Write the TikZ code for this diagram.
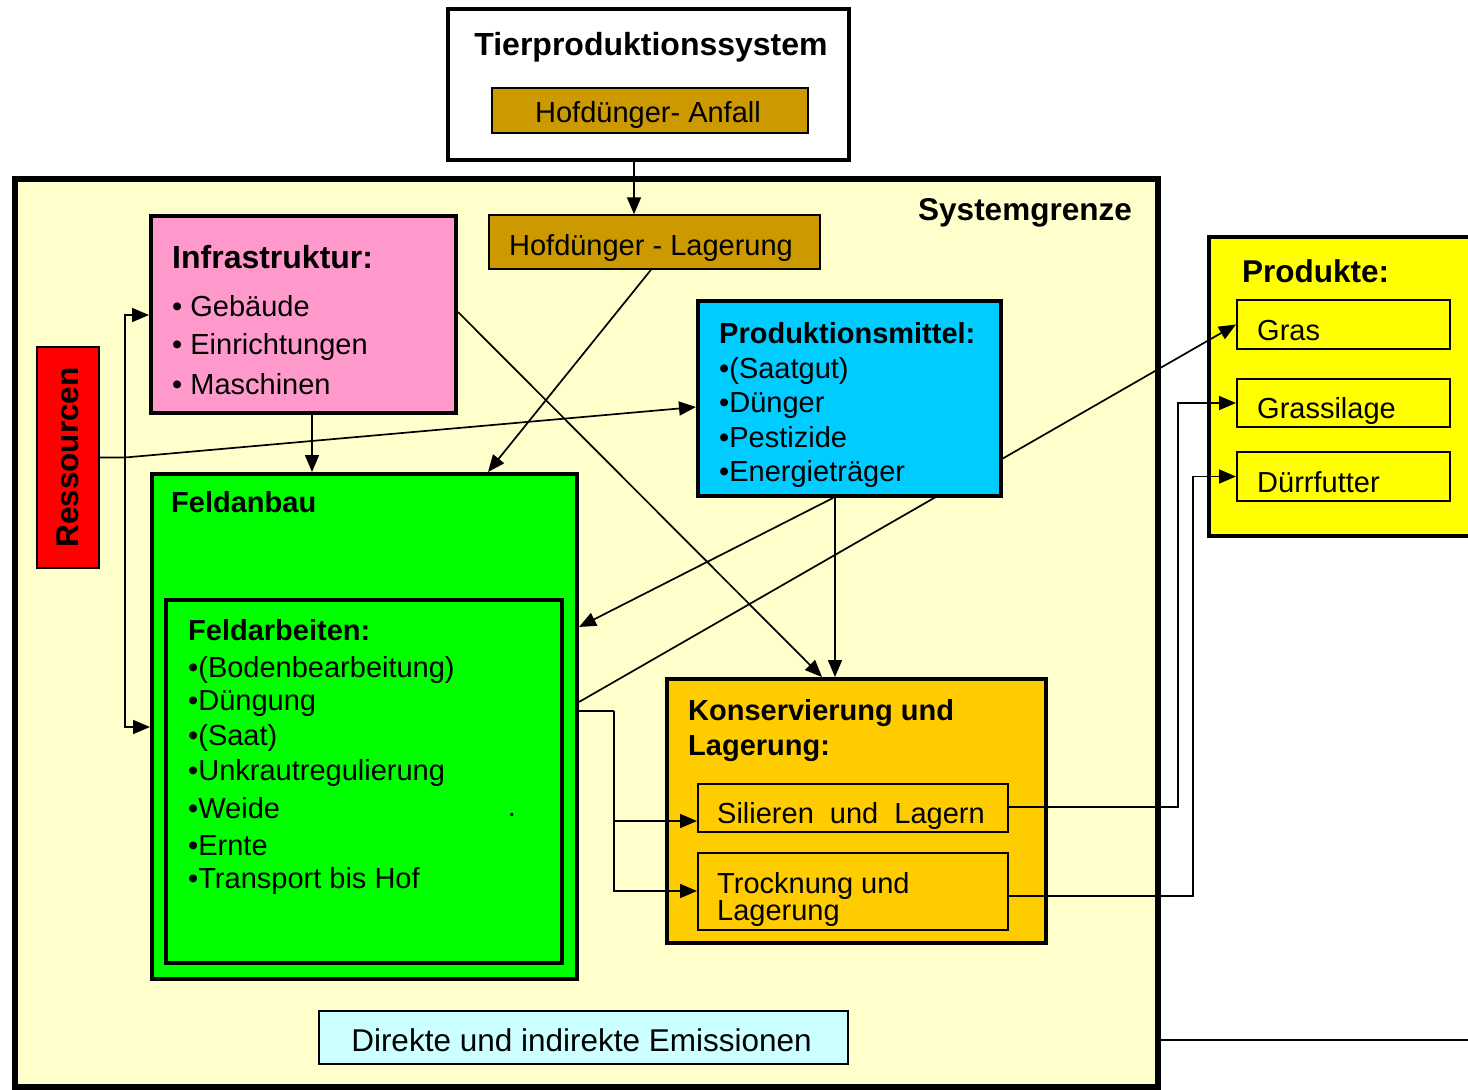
\documentclass[tikz,border=0pt]{standalone}
\usepackage{fontspec}
\setmainfont{Liberation Sans}
\usetikzlibrary{arrows.meta,calc}
\definecolor{sysbg}{HTML}{FFFFCC}
\definecolor{hofd}{HTML}{CC9900}
\definecolor{infrac}{HTML}{FF99CC}
\definecolor{prodc}{HTML}{00CCFF}
\definecolor{feldc}{HTML}{00FF00}
\definecolor{konsc}{HTML}{FFCC00}
\definecolor{produktc}{HTML}{FFFF00}
\definecolor{emisc}{HTML}{CCFFFF}
\definecolor{resc}{HTML}{FF0000}
\begin{document}
\begin{tikzpicture}[x=1pt,y=-1pt,
 box/.style={draw, rectangle, inner sep=0pt, line width=4pt},
 thinbox/.style={draw, rectangle, inner sep=0pt, line width=1.5pt},
 txt/.style={inner sep=0pt, anchor=base west, font=\fontsize{29}{34}\selectfont},
 hd/.style={inner sep=0pt, anchor=base west, font=\fontsize{29}{34}\selectfont\bfseries},
 bighd/.style={inner sep=0pt, anchor=base west, font=\fontsize{31.5}{36}\selectfont\bfseries},
 arr/.style={line width=1.7pt, -{Triangle[length=17pt,width=14pt]}},
 ln/.style={line width=1.7pt}]
\useasboundingbox (0,0) rectangle (1468,1090);
\fill[white] (0,0) rectangle (1468,1090);

% Systemgrenze
\node[box, line width=6pt, fill=sysbg, minimum width=1143pt, minimum height=908pt] (sys) at (586.5,633) {};
\node[bighd, anchor=base east] (sysT) at (1132,220) {Systemgrenze};

% Tierproduktionssystem
\node[box, line width=3.5pt, fill=white, minimum width=401pt, minimum height=151pt] (tier) at (648.5,84.5) {};
\node[bighd, anchor=base, font=\fontsize{32}{36}\selectfont\bfseries] (tierT) at (651,55) {Tierproduktionssystem};
\node[thinbox, fill=hofd, minimum width=316pt, minimum height=45pt] (anfall) at (650,110.5) {};
\node[txt, anchor=base] (anfallT) at (648,122) {Hofdünger- Anfall};

% Hofduenger-Lagerung
\node[thinbox, fill=hofd, minimum width=331pt, minimum height=54pt] (lager) at (654.5,242) {};
\node[txt, anchor=base] (lagerT) at (651,255) {Hofdünger - Lagerung};

% Infrastruktur
\node[box, fill=infrac, minimum width=305pt, minimum height=197pt] (infra) at (303.5,314.5) {};
\node[bighd, font=\fontsize{32}{36}\selectfont\bfseries] (infraT) at (172,268) {Infrastruktur:};
\node[txt] (infra1) at (172,316) {• Gebäude};
\node[txt] (infra2) at (172,354) {• Einrichtungen};
\node[txt] (infra3) at (172,394) {• Maschinen};

% Ressourcen
\node[thinbox, fill=resc, minimum width=62pt, minimum height=221pt] (res) at (68,457.5) {};
\node[bighd, anchor=center, rotate=90] (resT) at (res.center) {Ressourcen};

% Feldanbau
\node[box, fill=feldc, minimum width=425pt, minimum height=505pt] (feld) at (364.5,726.5) {};
\node[hd] (feldT) at (171,512) {Feldanbau};
\node[box, fill=feldc, minimum width=396pt, minimum height=363pt] (arb) at (364,781.5) {};
\node[hd] (arbT) at (188,640) {Feldarbeiten:};
\node[txt] (arb1) at (188,677) {•(Bodenbearbeitung)};
\node[txt] (arb2) at (188,710) {•Düngung};
\node[txt] (arb3) at (188,745) {•(Saat)};
\node[txt] (arb4) at (188,780) {•Unkrautregulierung};
\node[txt] (arb5) at (188,818) {•Weide};
\node[txt] (arb6) at (188,855) {•Ernte};
\node[txt] (arb7) at (188,888) {•Transport bis Hof};
\node[txt, anchor=base] (dot) at (512,816) {.};

% Konservierung
\node[box, fill=konsc, minimum width=379pt, minimum height=264pt] (kons) at (856.5,811) {};
\node[hd] (konsT1) at (688,720) {Konservierung und};
\node[hd] (konsT2) at (688,755) {Lagerung:};
\node[thinbox, line width=2pt, fill=konsc, minimum width=310pt, minimum height=48pt] (sil) at (853,808) {};
\node[txt] (silT) at (717,823) {Silieren\ \ und\ \ Lagern};
\node[thinbox, line width=2pt, fill=konsc, minimum width=310pt, minimum height=77pt] (trock) at (853,891.5) {};
\node[txt] (trockT1) at (717,893) {Trocknung und};
\node[txt] (trockT2) at (717,920) {Lagerung};

% Produkte
\node[box, fill=produktc, minimum width=269pt, minimum height=299pt] (produkte) at (1343.5,386.5) {};
\node[bighd] (produkteT) at (1242,282) {Produkte:};
\node[thinbox, line width=2pt, fill=produktc, minimum width=213pt, minimum height=49pt] (gras) at (1343.5,324.5) {};
\node[txt] (grasT) at (1257,340) {Gras};
\node[thinbox, line width=2pt, fill=produktc, minimum width=213pt, minimum height=48pt] (silage) at (1343.5,403) {};
\node[txt] (silageT) at (1257,418) {Grassilage};
\node[thinbox, line width=2pt, fill=produktc, minimum width=213pt, minimum height=49pt] (duerr) at (1343.5,476.5) {};
\node[txt] (duerrT) at (1257,492) {Dürrfutter};

% Emissionen
\node[thinbox, fill=emisc, minimum width=529pt, minimum height=53pt] (emis) at (583.5,1037.5) {};
\node[txt, anchor=base, font=\fontsize{31.5}{36}\selectfont] (emisT) at (581.5,1051) {Direkte und indirekte Emissionen};

% connector passing behind Produktionsmittel
\draw[arr] (feld.east |- 0,702) -- (gras.west);

% Produktionsmittel
\node[box, fill=prodc, minimum width=303pt, minimum height=195pt] (prod) at (849.5,398.5) {};
\node[hd] (prodT) at (719,343) {Produktionsmittel:};
\node[txt] (prod1) at (719,378) {•(Saatgut)};
\node[txt] (prod2) at (719,412.5) {•Dünger};
\node[txt] (prod3) at (719,447) {•Pestizide};
\node[txt] (prod4) at (719,481.5) {•Energieträger};

% connectors
\draw[arr] (tier.south -| 634,0) -- (634,0 |- lager.north);
\coordinate (j) at (125,457.5);
\draw[arr] (res.east) -- (j) -- (prod.west |- 0,407);
\draw[arr] (j) |- (infra.west |- 0,315);
\draw[arr] (j) |- (feld.west |- 0,727);
\draw[arr] ([xshift=8.5pt]infra.south) -- ([xshift=8.5pt]infra.south |- feld.north);
\draw[arr] (infra.east |- 0,312) -- ([xshift=-34.5pt]kons.north);
\draw[arr] ([xshift=-3.5pt]lager.south) -- (488,0 |- feld.north);
\draw[arr] ([xshift=-14.5pt]prod.south) -- ([xshift=-14.5pt]prod.south |- kons.north);
\draw[arr] ([xshift=-16.5pt]prod.south) -- (feld.east |- 0,627);
\coordinate (k) at (614,711);
\draw[ln] (feld.east |- 0,711) -- (k);
\draw[arr] (k) |- (sil.west |- 0,821);
\draw[arr] (k) |- (trock.west |- 0,891);
\draw[arr] (sil.east |- 0,807) -| (1178,403) -- (silage.west);
\draw[arr] (trock.east |- 0,896) -| (1193,476.5) -- (duerr.west);
\coordinate (out) at (1468,1040);
\draw[ln] (sys.east |- 0,1040) -- (out);
\end{tikzpicture}
\end{document}
